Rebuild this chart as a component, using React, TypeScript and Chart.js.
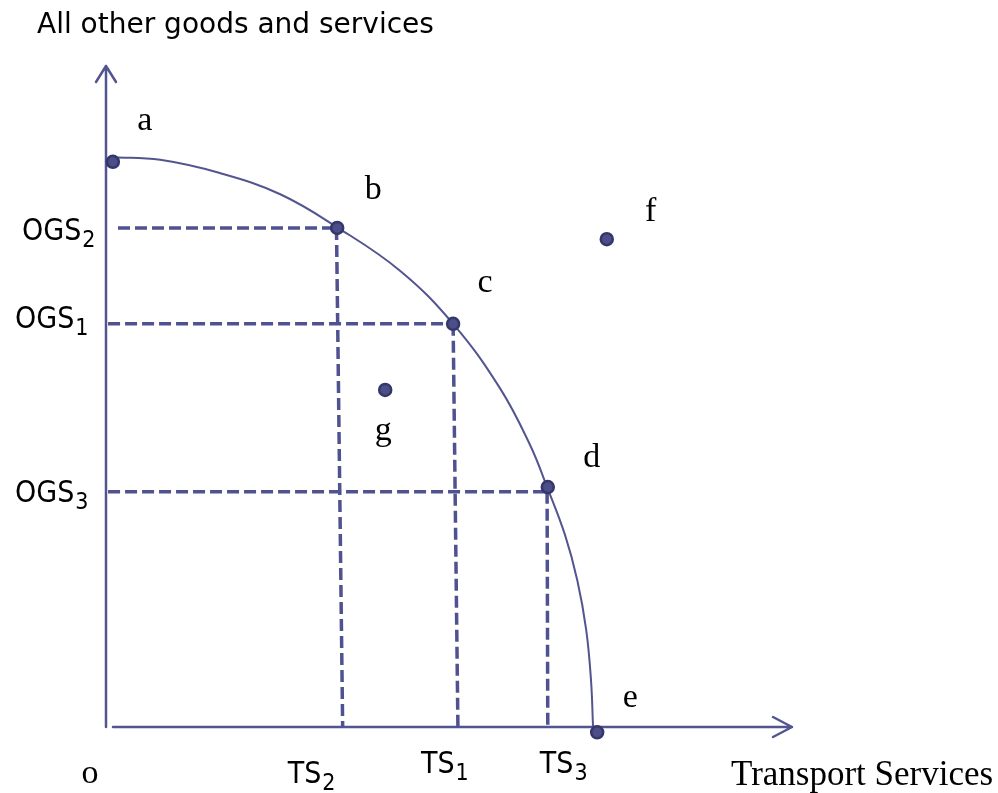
import { useEffect, useRef } from 'react';
import { Chart, registerables } from 'chart.js';

Chart.register(...registerables);

// ---------- data ----------
const Y_AXIS_TITLE = 'All other goods and services';
const X_AXIS_TITLE = 'Transport Services';
const ORIGIN_LABEL = 'o';

// production possibility frontier
const CURVE_X = [1.0, 7.9, 16.6, 25.4, 33.7, 42.9, 50.6, 57.4, 61.8, 64.3, 66.9, 68.7, 70.0, 70.7, 71.0];
const CURVE_Y = [86.2, 85.8, 83.8, 80.6, 75.6, 69.0, 61.0, 51.3, 42.7, 36.3, 29.1, 22.2, 14.7, 7.1, 0];

// labelled points
const POINT_NAMES = ['a', 'b', 'c', 'd', 'e', 'f', 'g'];
const POINT_X = [1.0, 33.7, 50.6, 64.4, 71.6, 73.0, 40.7];
const POINT_Y = [85.5, 75.5, 61.0, 36.3, -0.8, 73.8, 51.0];

// guides: index 0 -> b (OGS2/TS2), 1 -> c (OGS1/TS1), 2 -> d (OGS3/TS3)
const OGS_TEXT = 'OGS';
const OGS_SUBS = ['2', '1', '3'];
const OGS_VALUES = [75.5, 61.0, 35.6];
const OGS_START_X = [1.75, 0.3, 0.3];
const TS_TEXT = 'TS';
const TS_SUBS = ['2', '1', '3'];
const TS_TOP_X = [33.6, 50.6, 64.3];
const TS_BOTTOM_X = [34.5, 51.3, 64.4];

// ---------- style ----------
const LINE_COLOR = '#52558f';
const DASH_COLOR = '#4f5290';
const DOT_FILL = '#4b4e88';
const DOT_BORDER = '#35376a';
const SANS = '"DejaVu Sans", sans-serif';
const SANS_COND = '"DejaVu Sans Condensed", "DejaVu Sans", sans-serif';
const SERIF = '"Liberation Serif", serif';
// offsets (px) of the letter labels from their dots: [dx, dy to baseline]
const POINT_LABEL_OFFSETS = [
  [32, -32], [36, -29], [32, -32], [44, -20], [33, -25], [44, -18], [-2, 50],
];
const OGS_LABEL_LEFT = [-84, -91, -91];
const OGS_LABEL_BASE = [12, 4, 10];
const TS_LABEL_LEFT = [-55, -37, -8];
const TS_LABEL_BASE = [56, 46, 46];

function drawSubLabel(ctx: CanvasRenderingContext2D, main: string, sub: string, x: number, y: number) {
  ctx.textAlign = 'left';
  ctx.textBaseline = 'alphabetic';
  try { (ctx as any).fontStretch = 'condensed'; } catch (e) { /* ignore */ }
  ctx.font = `30px ${SANS_COND}`;
  ctx.fillText(main, x, y);
  const w = ctx.measureText(main).width;
  ctx.font = `23px ${SANS_COND}`;
  ctx.fillText(sub, x + w + 1, y + 7);
  try { (ctx as any).fontStretch = 'normal'; } catch (e) { /* ignore */ }
}

const ppfPlugin = {
  id: 'ppfAxes',
  beforeDatasetsDraw(chart: any) {
    const { ctx, chartArea, scales } = chart;
    const x0 = scales.x.getPixelForValue(0);
    const y0 = scales.y.getPixelForValue(0);
    ctx.save();
    ctx.strokeStyle = LINE_COLOR;
    ctx.lineWidth = 2.5;
    ctx.lineCap = 'round';
    ctx.lineJoin = 'round';
    // y axis
    ctx.beginPath();
    ctx.moveTo(x0, y0);
    ctx.lineTo(x0, chartArea.top);
    ctx.moveTo(x0 - 10, chartArea.top + 16);
    ctx.lineTo(x0, chartArea.top);
    ctx.lineTo(x0 + 10, chartArea.top + 16);
    ctx.stroke();
    // x axis
    ctx.beginPath();
    ctx.moveTo(x0 + 7, y0);
    ctx.lineTo(chartArea.right, y0);
    ctx.moveTo(chartArea.right - 19, y0 - 10);
    ctx.lineTo(chartArea.right, y0);
    ctx.lineTo(chartArea.right - 19, y0 + 10);
    ctx.stroke();
    ctx.restore();
  },
  afterDatasetsDraw(chart: any) {
    const { ctx, chartArea, scales } = chart;
    const x0 = scales.x.getPixelForValue(0);
    const y0 = scales.y.getPixelForValue(0);
    ctx.save();
    ctx.fillStyle = '#000000';
    // axis titles
    ctx.textAlign = 'left';
    ctx.textBaseline = 'alphabetic';
    ctx.font = `28px ${SANS}`;
    ctx.fillText(Y_AXIS_TITLE, chartArea.left - 69, chartArea.top - 33);
    ctx.font = `35px ${SERIF}`;
    ctx.fillText(X_AXIS_TITLE, chartArea.right - 61, chartArea.bottom + 58);
    // origin
    ctx.textAlign = 'center';
    ctx.font = `34px ${SERIF}`;
    ctx.fillText(ORIGIN_LABEL, x0 - 16, y0 + 56);
    // point letters
    POINT_NAMES.forEach((name, i) => {
      const px = scales.x.getPixelForValue(POINT_X[i]);
      const py = scales.y.getPixelForValue(POINT_Y[i]);
      ctx.fillText(name, px + POINT_LABEL_OFFSETS[i][0], py + POINT_LABEL_OFFSETS[i][1]);
    });
    // OGS labels
    OGS_VALUES.forEach((v, i) => {
      const py = scales.y.getPixelForValue(v);
      drawSubLabel(ctx, OGS_TEXT, OGS_SUBS[i], x0 + OGS_LABEL_LEFT[i], py + OGS_LABEL_BASE[i]);
    });
    // TS labels
    TS_BOTTOM_X.forEach((v, i) => {
      const px = scales.x.getPixelForValue(v);
      drawSubLabel(ctx, TS_TEXT, TS_SUBS[i], px + TS_LABEL_LEFT[i], y0 + TS_LABEL_BASE[i]);
    });
    ctx.restore();
  },
};

export default function App() {
  const canvasRef = useRef<HTMLCanvasElement | null>(null);

  useEffect(() => {
    const canvas = canvasRef.current;
    if (!canvas) return;

    const dashStyle = {
      showLine: true,
      borderColor: DASH_COLOR,
      borderWidth: 3.5,
      borderDash: [12, 5],
      pointRadius: 0,
      fill: false,
      clip: false as any,
      order: 3,
    };

    const horizontalGuides = OGS_VALUES.map((v, i) => ({
      ...dashStyle,
      label: `${OGS_TEXT}${OGS_SUBS[i]}`,
      data: [
        { x: OGS_START_X[i], y: v },
        { x: TS_TOP_X[i], y: v },
      ],
    }));
    const verticalGuides = TS_TOP_X.map((v, i) => ({
      ...dashStyle,
      label: `${TS_TEXT}${TS_SUBS[i]}`,
      data: [
        { x: v, y: OGS_VALUES[i] },
        { x: TS_BOTTOM_X[i], y: 0 },
      ],
    }));

    const chart = new Chart(canvas, {
      type: 'scatter',
      data: {
        datasets: [
          {
            label: 'points',
            data: POINT_X.map((x, i) => ({ x, y: POINT_Y[i] })),
            showLine: false,
            pointRadius: 6,
            pointBackgroundColor: DOT_FILL,
            pointBorderColor: DOT_BORDER,
            pointBorderWidth: 2.5,
            clip: false as any,
            order: 1,
          },
          {
            label: 'PPF',
            data: CURVE_X.map((x, i) => ({ x, y: CURVE_Y[i] })),
            showLine: true,
            borderColor: LINE_COLOR,
            borderWidth: 2,
            tension: 0.4,
            pointRadius: 0,
            clip: false as any,
            order: 2,
          },
          ...horizontalGuides,
          ...verticalGuides,
        ] as any,
      },
      options: {
        animation: false,
        responsive: false,
        maintainAspectRatio: false,
        devicePixelRatio: 1,
        layout: { padding: { left: 106, right: 206, top: 66, bottom: 66 } },
        scales: {
          x: { type: 'linear', min: 0, max: 100, display: false },
          y: { type: 'linear', min: 0, max: 100, display: false },
        },
        plugins: {
          legend: { display: false },
          title: { display: false },
          tooltip: { enabled: false },
        },
        elements: { line: { capBezierPoints: false } },
      },
      plugins: [ppfPlugin],
    });

    return () => chart.destroy();
  }, []);

  return (
    <div style={{ position: 'absolute', left: 0, top: 0, width: 998, height: 793, background: '#ffffff' }}>
      <canvas ref={canvasRef} width={998} height={793} style={{ display: 'block' }} />
    </div>
  );
}
